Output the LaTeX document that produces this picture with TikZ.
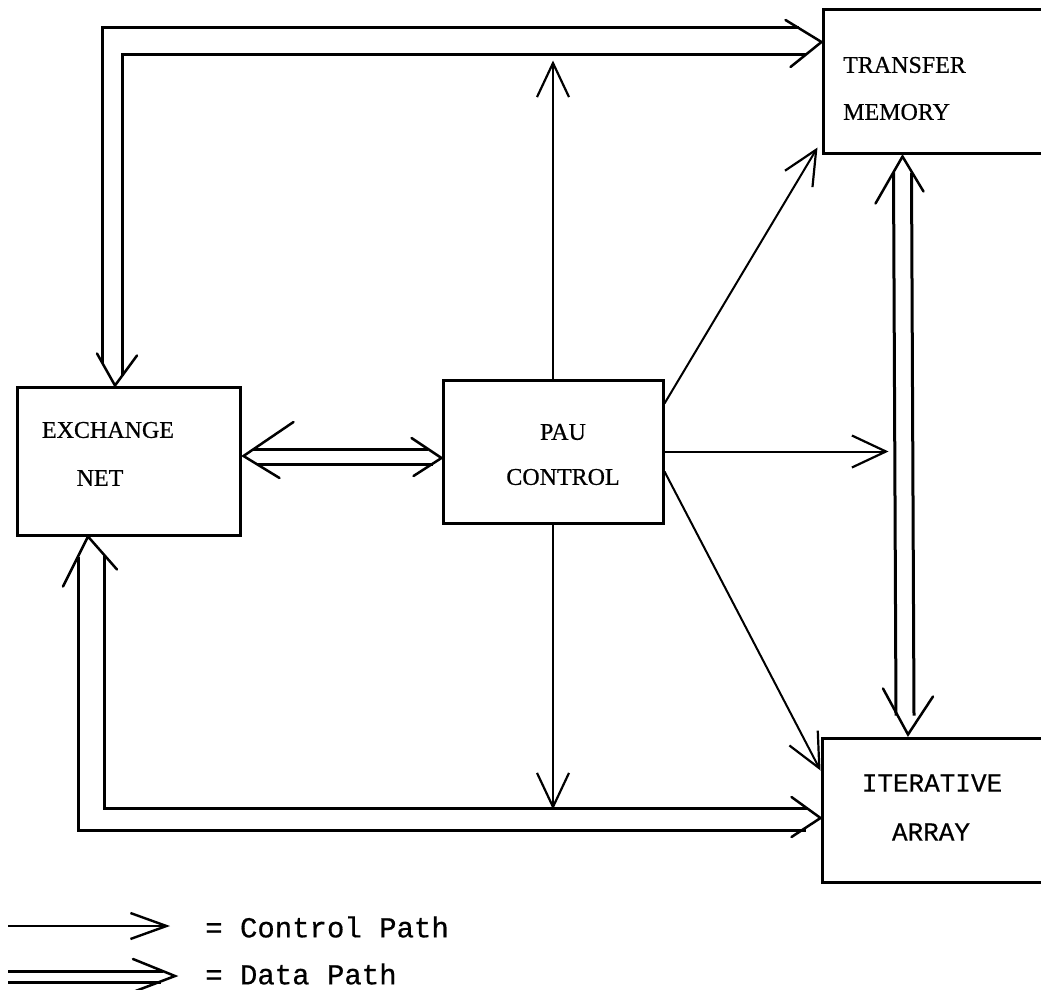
\documentclass[tikz,border=0pt]{standalone}
\usepackage{fontspec}
\setmainfont{Liberation Serif}
\setmonofont{Liberation Mono}
\newfontfamily\lblfont[FakeBold=0.6]{Liberation Serif}
\newfontfamily\lblmono[FakeBold=0.5]{Liberation Mono}
\usetikzlibrary{arrows.meta,calc}
\begin{document}
\begin{tikzpicture}[x=1pt,y=-1pt,
  box/.style={draw, line width=3pt, inner sep=0pt},
  lbl/.style={font=\lblfont\fontsize{24}{24}\selectfont, inner sep=0pt},
  mlbl/.style={font=\lblmono\fontsize{26}{26}\selectfont, inner sep=0pt},
  legtxt/.style={font=\lblmono\fontsize{29}{29}\selectfont, inner sep=0pt, anchor=west},
  ctrl/.style={line width=2pt, -{Straight Barb[length=34pt,width=32pt,line width=2.2pt]}},
  legctrl/.style={line width=2pt, -{Straight Barb[length=36pt,width=26pt,line width=2.4pt]}},
  dline/.style={line width=3pt, line join=miter},
  vhead/.style={line width=2.5pt, line join=miter, line cap=round},
]
\fill[white] (0,0) rectangle (1041,990);
\useasboundingbox (0,0) rectangle (1041,990);

% boxes
\node[box, minimum width=223pt, minimum height=148pt] (ex) at (128.5,461) {};
\node[box, minimum width=220pt, minimum height=143pt] (pau) at (553,451.5) {};
\node[box, minimum width=221pt, minimum height=143pt] (tm) at (933.5,81.5) {};
\node[box, minimum width=222pt, minimum height=144pt] (ia) at (933,810) {};

% labels
\node[lbl] (exA) at (108,430) {EXCHANGE};
\node[lbl] (exB) at (100,478) {NET};
\node[lbl] (pauA) at (563,432) {PAU};
\node[lbl] (pauB) at (563,477) {CONTROL};
\node[lbl, anchor=west] (tmA) at (843,65) {TRANSFER};
\node[lbl, anchor=west] (tmB) at (843,112) {MEMORY};
\node[mlbl] (iaA) at (932,783) {ITERATIVE};
\node[mlbl] (iaB) at (931,832) {ARRAY};

% control paths
\coordinate (tTop) at ($(pau.north)+(0,-318)$);
\coordinate (tBot) at ($(pau.south)+(0,285)$);
\coordinate (tMid) at ($(pau.east)+(224,0)$);
\draw[ctrl] (pau.north) -- (tTop);
\draw[ctrl] (pau.south) -- (tBot);
\draw[ctrl] (pau.east) -- (tMid);
\draw[ctrl] ($(pau.north east)+(0,25)$) -- ($(tm.south west)+(-4,-7)$);
\draw[ctrl] ($(pau.south east)+(0,-53)$) -- ($(ia.north west)+(0,34)$);

% data path: exchange net <-> transfer memory
\coordinate (t1) at ($(ex.north)+(-13.5,0)$);
\coordinate (t2) at ($(tm.west)+(0,-39.5)$);
\draw[dline] ($(t1)+(-13,-23)$) |- ($(t2)+(-23,-14)$);
\draw[dline] ($(t1)+(7,-10)$) |- ($(t2)+(-16,13)$);
\draw[vhead] ($(t1)+(-18,-32)$) -- (t1) -- ($(t1)+(22,-30)$);
\draw[vhead] ($(t2)+(-36,-22)$) -- (t2) -- ($(t2)+(-31,25)$);

% data path: exchange net <-> iterative array
\coordinate (t3) at ($(ex.south)+(-40.5,0)$);
\coordinate (t4) at ($(ia.west)+(0,8)$);
\draw[dline] ($(t3)+(-10,20)$) |- ($(t4)+(-15,12)$);
\draw[dline] ($(t3)+(16,18)$) |- ($(t4)+(-14,-10)$);
\draw[vhead] ($(t3)+(-25,50)$) -- (t3) -- ($(t3)+(29,33)$);
\draw[vhead] ($(t4)+(-29,-21)$) -- (t4) -- ($(t4)+(-29,19)$);

% data path: exchange net <-> PAU control
\coordinate (t5) at ($(ex.east)+(2,-5)$);
\coordinate (t6) at ($(pau.west)+(0,6.5)$);
\draw[dline] ($(t5)+(9,-7)$) -- ($(t6)+(-14,-9)$);
\draw[dline] ($(t5)+(14,8)$) -- ($(t6)+(-9,6)$);
\draw[vhead] ($(t5)+(50,-34)$) -- (t5) -- ($(t5)+(36,22)$);
\draw[vhead] ($(t6)+(-30,-20)$) -- (t6) -- ($(t6)+(-28,18)$);

% data path: transfer memory <-> iterative array
\coordinate (t7) at ($(tm.south)+(-31,2)$);
\coordinate (t8) at ($(ia.north)+(-25,-2)$);
\draw[dline] ($(t7)+(-9,16)$) -- ($(t8)+(-12,-19)$);
\draw[dline] ($(t7)+(9,16)$) -- ($(t8)+(6,-19)$);
\draw[vhead] ($(t7)+(-27,47)$) -- (t7) -- ($(t7)+(21,35)$);
\draw[vhead] ($(t8)+(-25,-46)$) -- (t8) -- ($(t8)+(25,-38)$);

% legend
\coordinate (lc0) at (8,926);
\coordinate (lc1) at (170,926);
\draw[legctrl] (lc0) -- (lc1);
\node[legtxt] (lgC) at (205,927) {= Control Path};
\coordinate (ld0) at (8,976);
\coordinate (ld1) at (175,976);
\draw[dline] ($(ld0)+(0,-5)$) -- ($(ld1)+(-12,-5)$);
\draw[dline] ($(ld0)+(0,6)$) -- ($(ld1)+(-14,6)$);
\draw[vhead] ($(ld1)+(-42,-17)$) -- (ld1) -- ($(ld1)+(-42,16)$);
\node[legtxt] (lgD) at (205,974) {= Data Path};
\end{tikzpicture}
\end{document}
